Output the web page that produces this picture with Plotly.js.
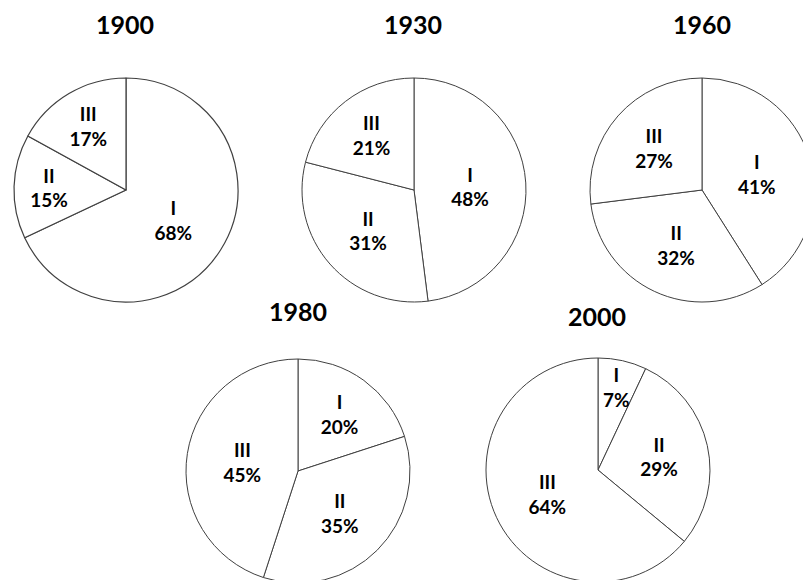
<!DOCTYPE html>
<html><head><meta charset="utf-8">
<script src="https://cdn.plot.ly/plotly-3.0.1.min.js"></script>
<style>
html,body{margin:0;padding:0;overflow:hidden;background:#fff;width:803px;height:580px}
#chart{width:830px;height:600px}
</style>
</head><body><div id="chart"></div>
<script>
// ---- data ----
const years = ['1900', '1930', '1960', '1980', '2000'];
const sectors = ['I', 'II', 'III'];
const share1900 = [68, 15, 17];
const share1930 = [48, 31, 21];
const share1960 = [41, 32, 27];
const share1980 = [20, 35, 45];
const share2000 = [7, 29, 64];
const shares = [share1900, share1930, share1960, share1980, share2000];

// ---- layout (pixels) ----
const W = 830, H = 600, R = 112;
const centers = [[126, 190], [414, 190], [702, 190], [298, 471], [598, 470]];
const titlePos = [[125, 24], [413, 24], [702, 24], [298, 311], [597, 316]];
const FONT = 'Lato, "Open Sans", sans-serif';
const LABEL_SIZE = 19;
const SMALL = 10;          // slices under this share get their label as an annotation (no shrinking)
const SMALL_RADIUS = 0.76; // fraction of radius for those labels

const traces = shares.map((vals, i) => {
  const [cx, cy] = centers[i];
  return {
    type: 'pie',
    labels: sectors,
    values: vals,
    sort: false,
    direction: 'clockwise',
    rotation: 0,
    hole: 0,
    domain: {
      x: [(cx - R) / W, (cx + R) / W],
      y: [1 - (cy + R) / H, 1 - (cy - R) / H]
    },
    marker: { colors: ['#ffffff', '#ffffff', '#ffffff'], line: { color: '#404040', width: i === 0 ? 1.2 : 1 } },
    texttemplate: '<b>%{label}</b><br><b>%{value}%</b>',
    textposition: vals.map(v => v < SMALL ? 'none' : 'inside'),
    insidetextorientation: 'horizontal',
    textfont: { family: FONT, size: LABEL_SIZE, color: '#000' },
    hoverinfo: 'none',
    showlegend: false
  };
});

const annotations = years.map((y, i) => ({
  text: '<b>' + y + '</b>',
  xref: 'paper', yref: 'paper',
  x: titlePos[i][0] / W, y: 1 - titlePos[i][1] / H,
  xanchor: 'center', yanchor: 'middle',
  showarrow: false,
  font: { family: FONT, size: 25, color: '#000' }
}));

// labels for narrow slices, placed on the slice's mid-angle
shares.forEach((vals, i) => {
  const total = vals.reduce((a, b) => a + b, 0);
  let cum = 0;
  vals.forEach((v, j) => {
    if (v < SMALL) {
      const ang = (cum + v / 2) / total * 2 * Math.PI;
      const px = centers[i][0] + SMALL_RADIUS * R * Math.sin(ang);
      const py = centers[i][1] - SMALL_RADIUS * R * Math.cos(ang);
      annotations.push({
        text: '<b>' + sectors[j] + '</b><br><b>' + v + '%</b>',
        xref: 'paper', yref: 'paper',
        x: px / W, y: 1 - py / H,
        xanchor: 'center', yanchor: 'middle',
        showarrow: false,
        font: { family: FONT, size: LABEL_SIZE, color: '#000' }
      });
    }
    cum += v;
  });
});

Plotly.newPlot('chart', traces, {
  width: W, height: H,
  margin: { l: 0, r: 0, t: 0, b: 0, pad: 0 },
  paper_bgcolor: '#fff',
  showlegend: false,
  annotations: annotations
}, { staticPlot: true, displayModeBar: false });
</script>
</body></html>
